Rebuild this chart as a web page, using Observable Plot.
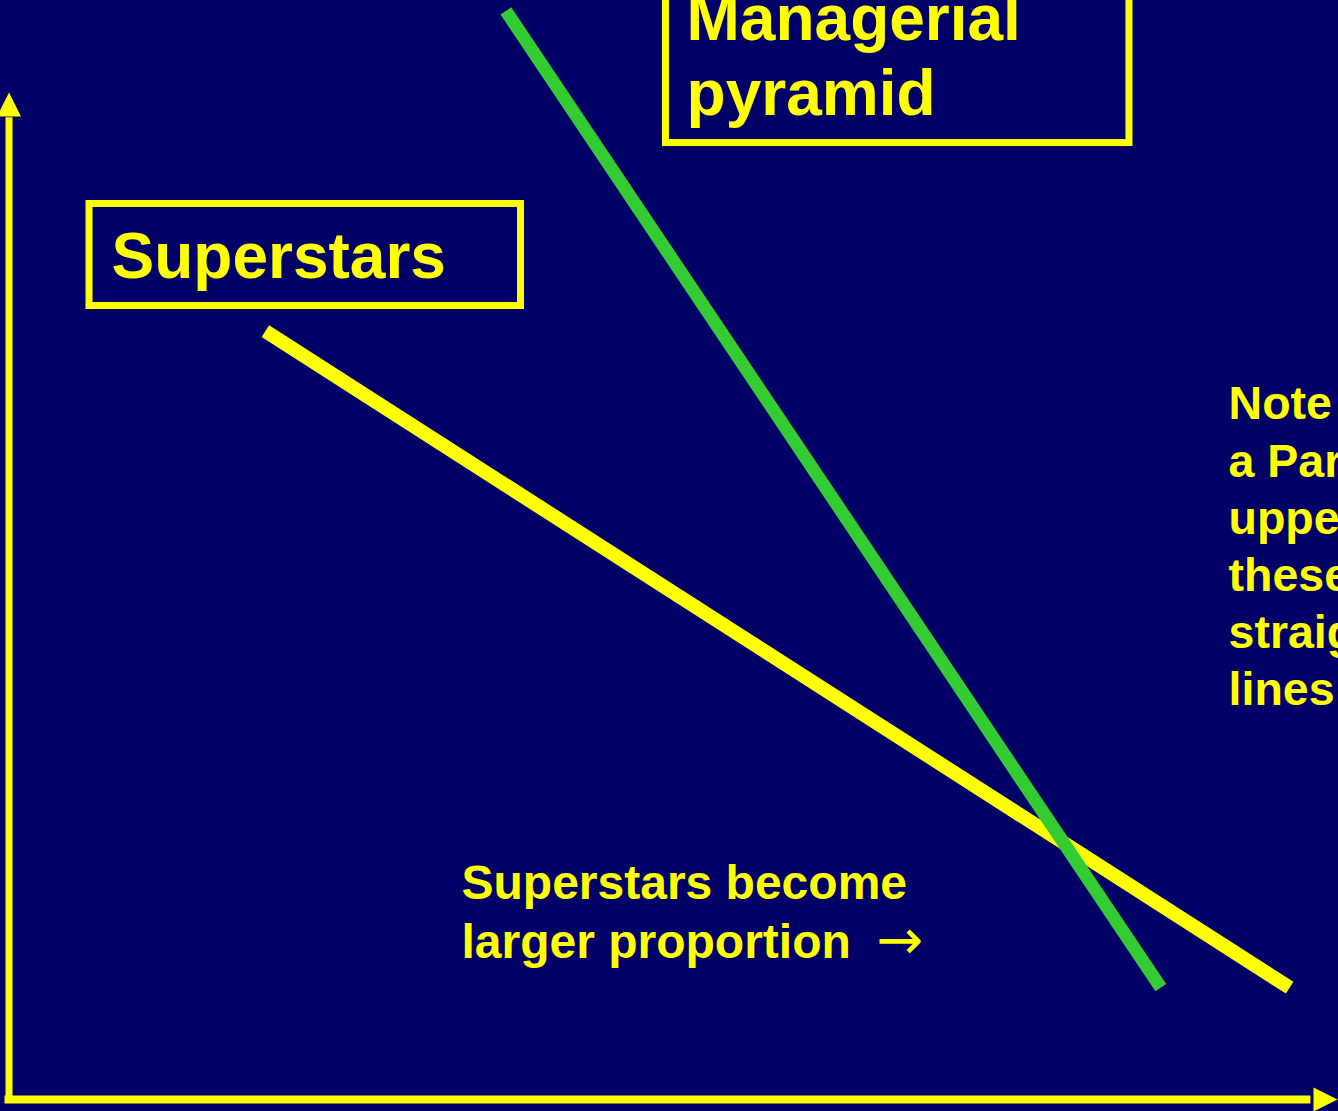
<!DOCTYPE html>
<html>
<head>
<meta charset="utf-8">
<script src="https://cdn.jsdelivr.net/npm/d3@7"></script>
<script src="https://cdn.jsdelivr.net/npm/@observablehq/plot@0.6"></script>
<style>
  html, body { margin: 0; padding: 0; background: #000066; overflow: hidden; }
  #chart svg { display: block; overflow: hidden; }
</style>
</head>
<body>
<div id="chart"></div>
<script>
// ---- Data (conceptual units; axes run 0..100) ----
const seriesNames = ["Superstars", "Managerial pyramid"];
const superstarsX = [19.3, 96.4];
const superstarsY = [76.3, 11.1];
const pyramidX = [37.4, 86.7];
const pyramidY = [108.1, 11.1];

// Labels
const boxLabels = ["Superstars", "Managerial\npyramid"];
const noteLabel = "Superstars become\nlarger proportion";
const noteArrow = "→";
const sideNote = "Note that\na Pareto\nupper tail\nthese are\nstraight\nlines";

// ---- Build tables ----
const toPts = (xs, ys) => xs.map((x, i) => ({x, y: ys[i]}));
const superstarsLine = toPts(superstarsX, superstarsY);
const pyramidLine = toPts(pyramidX, pyramidY);

const YELLOW = "#FFFF00";
const GREEN = "#33CC33";
const BG = "#000066";
const FONT = "'Liberation Sans', Arial, Helvetica, sans-serif";

// Arrowhead symbol with its tip at the origin, pointing up
const arrowHead = {
  draw(context) {
    const len = 24, half = 12;
    context.moveTo(0, 0);
    context.lineTo(half, len);
    context.lineTo(-half, len);
    context.closePath();
  }
};

const chart = Plot.plot({
  width: 1338,
  height: 1111,
  margin: 0,
  style: {background: BG, overflow: "hidden"},
  x: {domain: [0, 100], range: [8.5, 1337], axis: null},
  y: {domain: [0, 100], range: [1099, 92], axis: null},
  marks: [
    // axes
    Plot.ruleY([0], {x1: -0.3, x2: 98, stroke: YELLOW, strokeWidth: 8}),
    Plot.ruleX([0], {y1: -0.4, y2: 97.5, stroke: YELLOW, strokeWidth: 7}),
    Plot.dot([{x: 0, y: 100}], {x: "x", y: "y", symbol: arrowHead, r: 10, fill: YELLOW, stroke: "none"}),
    Plot.dot([{x: 100, y: 0}], {x: "x", y: "y", symbol: arrowHead, r: 10, fill: YELLOW, stroke: "none", rotate: 90}),
    // series lines
    Plot.line(superstarsLine, {x: "x", y: "y", stroke: YELLOW, strokeWidth: 14, strokeLinecap: "butt"}),
    Plot.line(pyramidLine, {x: "x", y: "y", stroke: GREEN, strokeWidth: 13, strokeLinecap: "butt"}),
    // label boxes
    Plot.rect([{x1: 6.06, x2: 38.54, y1: 78.8, y2: 88.93}], {x1: "x1", x2: "x2", y1: "y1", y2: "y2", fill: "none", stroke: YELLOW, strokeWidth: 7}),
    Plot.rect([{x1: 49.45, x2: 84.34, y1: 94.98, y2: 113.1}], {x1: "x1", x2: "x2", y1: "y1", y2: "y2", fill: "none", stroke: YELLOW, strokeWidth: 7}),
    Plot.text([boxLabels[0]], {x: 7.72, y: 81.53, text: d => d, textAnchor: "start", lineAnchor: "bottom", fontSize: 64, fontWeight: "bold", fontFamily: FONT, fill: YELLOW}),
    Plot.text([boxLabels[1]], {x: 51.0, y: 97.72, text: d => d, textAnchor: "start", lineAnchor: "bottom", lineHeight: 1.18, fontSize: 64, fontWeight: "bold", fontFamily: FONT, fill: YELLOW}),
    // annotations
    Plot.text([noteLabel], {x: 34.06, y: 14.1, text: d => d, textAnchor: "start", lineAnchor: "bottom", lineHeight: 1.22, fontSize: 48, fontWeight: "bold", fontFamily: FONT, fill: YELLOW}),
    Plot.text([noteArrow], {x: 65.3, y: 14.0, text: d => d, textAnchor: "start", lineAnchor: "bottom", fontSize: 56, fontWeight: "normal", fontFamily: "'DejaVu Sans', sans-serif", fill: YELLOW}),
    Plot.text([sideNote], {x: 91.8, y: 39.13, text: d => d, textAnchor: "start", lineAnchor: "bottom", lineHeight: 1.23, fontSize: 46.5, fontWeight: "bold", fontFamily: FONT, fill: YELLOW})
  ]
});

document.getElementById("chart").append(chart);
</script>
</body>
</html>
